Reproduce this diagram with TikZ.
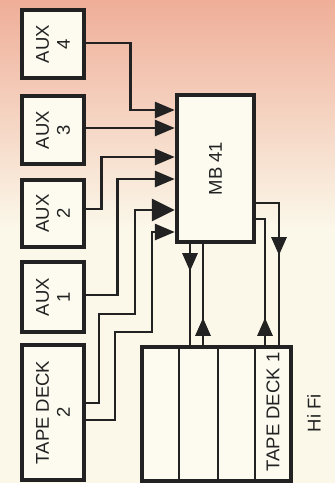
\documentclass[tikz,border=0pt]{standalone}
\usepackage{fontspec}
\setmainfont{Liberation Sans}
\usetikzlibrary{arrows.meta,decorations.markings}
\definecolor{salmon}{HTML}{EFAE98}
\definecolor{midpink}{HTML}{F7D9C9}
\definecolor{cream}{HTML}{FBF8EA}
\definecolor{boxfill}{HTML}{FDFBF0}
\definecolor{ink}{HTML}{222222}
\tikzset{
  box/.style={draw=ink, line width=4.4pt, fill=boxfill, rectangle, inner sep=0pt},
  conn/.style={draw=ink, line width=2.8pt},
  tip/.style={-{Triangle[length=20pt,width=16pt]}},
  bigtip/.style={-{Triangle[length=23pt,width=22pt]}},
  midtip/.style={postaction={decorate},decoration={markings,
      mark=at position #1 with {\arrow[ink]{Triangle[length=18pt,width=15pt]}}}},
  lbl/.style={text=ink, rotate=90, align=center, font=\fontsize{18.5}{21}\selectfont},
}
\begin{document}
\begin{tikzpicture}[x=1pt,y=-1pt]
\useasboundingbox (0,0) rectangle (335,483);
% background
\shade[top color=salmon, middle color=midpink, bottom color=cream] (0,0) rectangle (335,230);
\fill[cream] (0,229.5) rectangle (335,483);
% boxes
\node[box, minimum width=62pt, minimum height=68pt, label={[lbl]center:AUX\\4}] (aux4) at (53,44) {};
\node[box, minimum width=62pt, minimum height=68pt, label={[lbl]center:AUX\\3}] (aux3) at (53,130) {};
\node[box, minimum width=62pt, minimum height=67pt, label={[lbl]center:AUX\\2}] (aux2) at (53,213.5) {};
\node[box, minimum width=62pt, minimum height=70pt, label={[lbl]center:AUX\\1}] (aux1) at (53,297) {};
\node[box, minimum width=62pt, minimum height=135pt, label={[lbl]center:TAPE DECK\\2}] (td2) at (53,412.5) {};
\node[box, minimum width=77pt, minimum height=147pt, label={[lbl]center:MB 41}] (mb) at (215.5,168.5) {};
\node[box, minimum width=149pt, minimum height=134pt] (hifi) at (216.5,414) {};
% hifi dividers
\foreach \xx in {179,218,255}
  \draw[draw=ink, line width=2.8pt] (hifi.north -| \xx,0) -- (hifi.south -| \xx,0);
\node[lbl] (td1) at (273,412) {TAPE DECK 1};
\node[lbl] (hifilabel) at (314,413) {Hi Fi};
% inputs to MB 41
\draw[conn,tip] (aux4.east |- 0,43) -- ++(44,0) |- (mb.west |- 0,110);
\draw[conn,tip] (aux3.east |- 0,128) -- (mb.west |- 0,128);
\draw[conn,tip] (aux2.east |- 0,209) -- ++(15,0) |- (mb.west |- 0,157);
\draw[conn,tip] (aux1.east |- 0,295) -- ++(31,0) |- (mb.west |- 0,179);
\draw[conn,bigtip] (td2.east |- 0,403) -| (99,314) -| (135,210) -- (mb.west |- 0,210);
\draw[conn,tip] (td2.east |- 0,420) -| (115,332) -| (152,232) -- (mb.west |- 0,232);
% MB 41 <-> Hi Fi
\draw[conn,midtip=27pt] (mb.south -| 190,0) -- (hifi.north -| 190,0);
\draw[conn,midtip=27pt] (hifi.north -| 203,0) -- (mb.south -| 203,0);
\draw[conn,midtip=75pt] (mb.east |- 0,203) -| (hifi.north -| 279,0);
\draw[conn,midtip=27pt] (hifi.north -| 265,0) |- (mb.east |- 0,219);
\end{tikzpicture}
\end{document}
